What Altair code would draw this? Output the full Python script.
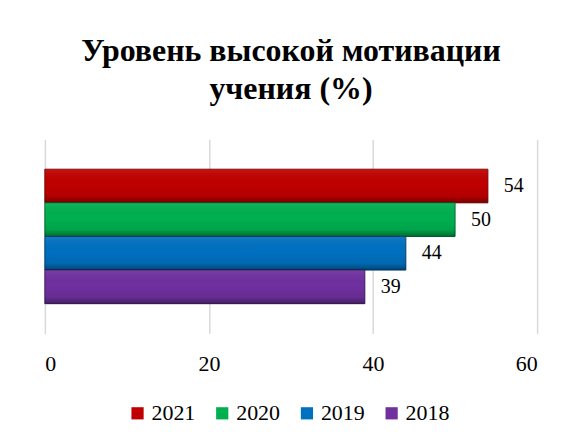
import altair as alt
import pandas as pd

years = ["2021", "2020", "2019", "2018"]
values = [54, 50, 44, 39]
colors = ["#C00000", "#00B050", "#0070C0", "#7030A0"]
edge_colors = ["#7a0000", "#006b30", "#003f6e", "#3e1a5c"]

df = pd.DataFrame({"year": years, "value": values})

font = "Liberation Serif"

y_enc = alt.Y("year:N", sort=years, axis=None,
              scale=alt.Scale(paddingInner=0, paddingOuter=0.89))

bars = alt.Chart(df).mark_bar(strokeWidth=1).encode(
    x=alt.X("value:Q", scale=alt.Scale(domain=[0, 60]),
            axis=alt.Axis(values=[0, 20, 40, 60], title=None, domain=False,
                          ticks=False, labelPadding=20, labelFontSize=22,
                          labelFont=font, labelColor="#000000",
                          gridColor="#d9d9d9", gridWidth=1.5)),
    y=y_enc,
    color=alt.Color("year:N", sort=years,
                    scale=alt.Scale(domain=years, range=colors),
                    legend=alt.Legend(orient="none", legendX=82, legendY=264,
                                      direction="horizontal",
                                      title=None, symbolType="square",
                                      symbolSize=150, symbolStrokeWidth=0,
                                      labelFontSize=22, labelFont=font,
                                      labelColor="#000000", columnPadding=16,
                                      symbolOffset=0, labelOffset=3)),
    stroke=alt.Stroke("year:N", sort=years,
                      scale=alt.Scale(domain=years, range=edge_colors),
                      legend=None),
)

shade = alt.Chart(df).mark_bar(
    color=alt.Gradient(
        gradient="linear", x1=0, y1=0, x2=0, y2=1,
        stops=[alt.GradientStop(offset=0, color="rgba(255,255,255,0.08)"),
               alt.GradientStop(offset=0.45, color="rgba(0,0,0,0.0)"),
               alt.GradientStop(offset=0.8, color="rgba(0,0,0,0.08)"),
               alt.GradientStop(offset=1, color="rgba(0,0,0,0.38)")]),
).encode(
    x="value:Q",
    y=y_enc,
)

labels = alt.Chart(df).mark_text(align="left", dx=16, fontSize=20, font=font,
                                 color="#000000").encode(
    x="value:Q",
    y=alt.Y("year:N", sort=years),
    text="value:Q",
)

chart = alt.layer(bars, shade, labels).properties(
    width=494, height=195,
    title=alt.Title(["Уровень высокой мотивации", "учения (%)"],
                    fontSize=32, font=font, fontWeight="bold", color="#000000",
                    anchor="middle", lineHeight=39, offset=33),
    padding={"left": 36, "top": 26, "right": 30, "bottom": 10},
).configure(background="#ffffff", font=font).configure_view(
    strokeWidth=0
).configure_legend(labelFont=font, labelFontWeight="normal").configure_axis(
    labelFont=font, labelFontWeight="normal")

chart.save("out.html", embed_options={"renderer": "svg", "actions": False})
